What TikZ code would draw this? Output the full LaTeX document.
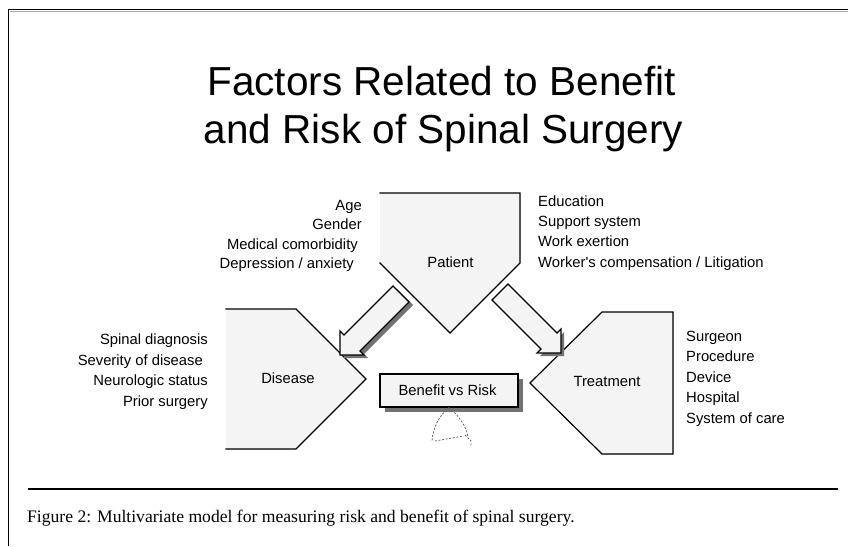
\documentclass[tikz,border=0pt]{standalone}
\usepackage{fontspec}
\setmainfont{Liberation Sans}
\newfontfamily\capfont{Liberation Serif}
\newcommand{\straightq}{\XeTeXglyph\the\XeTeXcharglyph"27\relax}
\definecolor{shfill}{HTML}{F4F4F4}
\definecolor{shgray}{HTML}{737373}
\tikzset{
  shapefill/.style={fill=shfill},
  shadowfill/.style={fill=shgray},
  outline/.style={draw=black, line width=1.2pt, line join=miter, line cap=rect},
  lbl/.style={font=\fontsize{14.8}{17}\selectfont, inner sep=0pt},
  titletext/.style={font=\fontsize{40.5}{46}\selectfont, inner sep=0pt, anchor=base},
  scrib/.style={draw=black!60, line width=0.8pt, dash pattern=on 2pt off 1.6pt},
}
\begin{document}
\begin{tikzpicture}[x=1pt,y=-1pt]
\useasboundingbox (0,0) rectangle (848,546);
\fill[white] (0,0) rectangle (848,546);
% frame
\draw[line width=1.3pt] (8.5,546) -- (8.5,9.5) -- (848,9.5);
\draw[shgray!60, line width=0.8pt] (9.5,11) -- (848,11);
% title
\node[titletext] (t1) at (441.5,95) {Factors Related to Benefit};
\node[titletext] (t2) at (443.5,143) {and Risk of Spinal Surgery};

% ---- Patient ----
\coordinate (p1) at (380,193); \coordinate (p2) at (520,193);
\coordinate (p3) at (520,263); \coordinate (p4) at (450,333);
\coordinate (p5) at (380,263);
\fill[shadowfill, shift={(4,4)}] (p1) -- (p2) -- (p3) -- (p4) -- (p5) -- cycle;
\fill[shapefill] (p1) -- (p2) -- (p3) -- (p4) -- (p5) -- cycle;
\draw[outline] (p1) -- (p2) -- (p3) -- (p4) -- (p5);
\node[lbl, anchor=base] (patient) at (450.5,267) {Patient};

% ---- Disease ----
\coordinate (d1) at (226,309); \coordinate (d2) at (296,309);
\coordinate (d3) at (366,379); \coordinate (d4) at (296,449);
\coordinate (d5) at (226,449);
\fill[shadowfill, shift={(4,4)}] (d1) -- (d2) -- (d3) -- (d4) -- (d5) -- cycle;
\fill[shapefill] (d1) -- (d2) -- (d3) -- (d4) -- (d5) -- cycle;
\draw[outline] (d1) -- (d2) -- (d3) -- (d4) -- (d5);
\node[lbl, anchor=base] (disease) at (288,383) {Disease};

% ---- Treatment ----
\coordinate (r1) at (602,312); \coordinate (r2) at (673,312);
\coordinate (r3) at (673,454); \coordinate (r4) at (602,454);
\coordinate (r5) at (530,383);
\fill[shadowfill, shift={(4,4)}] (r1) -- (r2) -- (r3) -- (r4) -- (r5) -- cycle;
\fill[shapefill] (r1) -- (r2) -- (r3) -- (r4) -- (r5) -- cycle;
\draw[outline] (r1) -- (r2) -- (r3) -- (r4) -- (r5) -- cycle;
\node[lbl, anchor=base] (treatment) at (607,386) {Treatment};

% ---- block arrow Patient -> Disease ----
\fill[shadowfill, shift={(4,3)}] (393,286) -- (344,335) -- (340,331) -- (340,355) -- (364,355) -- (360,351) -- (409,302) -- cycle;
\filldraw[fill=shfill, draw=black, line width=1.1pt, line join=miter]
  (393,286) -- (344,335) -- (340,331) -- (340,355) -- (364,355) -- (360,351) -- (409,302) -- cycle;

% ---- block arrow Patient -> Treatment ----
\fill[shadowfill, shift={(3,3)}] (508,284) -- (557,333) -- (561,329) -- (561,353) -- (537,353) -- (541,349) -- (492,300) -- cycle;
\filldraw[fill=shfill, draw=black, line width=1.1pt, line join=miter]
  (508,284) -- (557,333) -- (561,329) -- (561,353) -- (537,353) -- (541,349) -- (492,300) -- cycle;

% ---- Benefit vs Risk ----
\fill[shadowfill] (385,379) rectangle (523,412);
\node[draw=black, line width=1.2pt, fill=shfill, minimum width=138pt, minimum height=33pt, inner sep=0pt] (bvr) at (449,390.5) {};
\node[lbl, anchor=base] (bvrtext) at (447.5,395) {Benefit vs Risk};
% dashed scribble
\draw[scrib] (bvr.south) .. controls (440,415) and (433,426) .. (432,441);
\draw[scrib] (bvr.south) .. controls (458,415) and (466,425) .. (468,437);
\draw[scrib] (435,441) -- (463,436);
\draw[scrib] (465,435) -- (471,441) -- (471,447);

% ---- factor lists ----
\node[lbl, anchor=base east] (age) at (362,210) {Age};
\node[lbl, anchor=base east] (gender) at (362,229.5) {Gender};
\node[lbl, anchor=base east] (medc) at (358,249) {Medical comorbidity};
\node[lbl, anchor=base east] (depr) at (354,268) {Depression / anxiety};

\node[lbl, anchor=base west] (edu) at (538,206) {Education};
\node[lbl, anchor=base west] (supp) at (538,226.5) {Support system};
\node[lbl, anchor=base west] (work) at (538,246.5) {Work exertion};
\node[lbl, anchor=base west] (comp) at (538,267) {Worker\straightq s compensation / Litigation};

\node[lbl, anchor=base east] (spin) at (208,344) {Spinal diagnosis};
\node[lbl, anchor=base east] (sev) at (203,365) {Severity of disease};
\node[lbl, anchor=base east] (neuro) at (208,385) {Neurologic status};
\node[lbl, anchor=base east] (prior) at (208,406) {Prior surgery};

\node[lbl, anchor=base west] (surg) at (686,341) {Surgeon};
\node[lbl, anchor=base west] (proc) at (686,361.5) {Procedure};
\node[lbl, anchor=base west] (dev) at (686,382) {Device};
\node[lbl, anchor=base west] (hosp) at (686,402.5) {Hospital};
\node[lbl, anchor=base west] (sys) at (686,423) {System of care};

% ---- caption ----
\draw[line width=1.1pt] (28,489) -- (838,489);
\node[inner sep=0pt, anchor=base west, font=\capfont\fontsize{17.6}{20}\selectfont] (cap) at (27,522)
  {Figure 2: Multivariate model for measuring risk and benefit of spinal surgery.};
\end{tikzpicture}
\end{document}
